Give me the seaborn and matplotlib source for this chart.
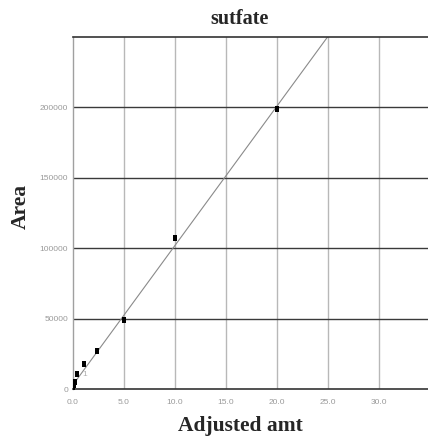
import numpy as np
import pandas as pd
import matplotlib
matplotlib.use("Agg")
import matplotlib.pyplot as plt
import seaborn as sns

# Calibration standards: adjusted amount vs. peak area
adjusted_amt = [0.0, 0.05, 0.1, 0.2, 0.45, 1.1, 2.4, 5.0, 10.0, 20.0]
area = [0, 1200, 2600, 5200, 10700, 17800, 27000, 49000, 107500, 198600]

# Linear calibration fit (area = slope * amt + intercept)
fit_slope = 9900.0
fit_intercept = 2500.0
fit_range = [-0.3, 25.5]

x_ticks = [0, 5, 10, 15, 20, 25, 30]
x_tick_labels = ["0.0", "5.0", "10.0", "15.0", "20.0", "25.0", "30.0"]
y_ticks = [0, 50000, 100000, 150000, 200000]
y_tick_labels = ["0", "50000", "100000", "150000", "200000"]

sns.set_style("white")
serif = ["Liberation Serif", "DejaVu Serif"]
narrow = ["Liberation Sans Narrow", "Liberation Sans", "DejaVu Sans"]

fig = plt.figure(figsize=(4.28, 4.38), dpi=100)
ax = fig.add_axes([72.5 / 428, 1 - 389 / 438, 1 - 72.5 / 428, (389 - 37) / 438])

pts = pd.DataFrame({"amt": adjusted_amt, "area": area})
fx = np.array(fit_range)
fit = pd.DataFrame({"amt": fx, "area": fit_slope * fx + fit_intercept})

ax.set_xlim(0, 34.85)
ax.set_ylim(0, 250000)

# Grid: light vertical lines, dark horizontal lines
for xv in x_ticks[1:]:
    ax.axvline(xv, color="#b8b8b8", lw=1.0, zorder=0)
for yv in y_ticks[1:]:
    ax.axhline(yv, color="#3a3a3a", lw=1.0, zorder=0)

sns.lineplot(data=fit, x="amt", y="area", ax=ax, color="#8a8a8a", lw=0.8, zorder=2)
rect = [(-0.55, -1), (0.55, -1), (0.55, 1), (-0.55, 1), (-0.55, -1)]
sns.scatterplot(data=pts, x="amt", y="area", ax=ax, marker=rect, s=22,
                color="black", edgecolor="black", linewidth=0, zorder=3)

ax.set_xticks(x_ticks)
ax.set_xticklabels(x_tick_labels, family=narrow, fontsize=6, color="#9a9a9a")
ax.set_yticks(y_ticks)
ax.set_yticklabels(y_tick_labels, family=narrow, fontsize=6, color="#9a9a9a")
ax.tick_params(axis="x", length=0, pad=7)
ax.tick_params(axis="y", length=0, pad=3)
ax.set_xlabel("")
ax.set_ylabel("")

for side in ["top", "bottom"]:
    ax.spines[side].set_color("#333333")
    ax.spines[side].set_linewidth(1.2)
ax.spines["left"].set_color("#a0a0a0")
ax.spines["left"].set_linewidth(1.0)
ax.spines["right"].set_visible(False)

ax.text(1.0, 9000, "1", fontsize=6, color="#b0b0b0", family=narrow, zorder=1)

fig.text(239.5 / 428, 1 - 19 / 438, "sutfate", ha="center", va="center",
         family=serif, fontsize=14.5, fontweight="bold")
fig.text(240 / 428, 1 - 426 / 438, "Adjusted amt", ha="center", va="center",
         family=serif, fontsize=15.5, fontweight="bold")
fig.text(21 / 428, 1 - 206 / 438, "Area", ha="center", va="center", rotation=90,
         family=serif, fontsize=15.5, fontweight="bold")

fig.savefig("out.png", dpi=100)
